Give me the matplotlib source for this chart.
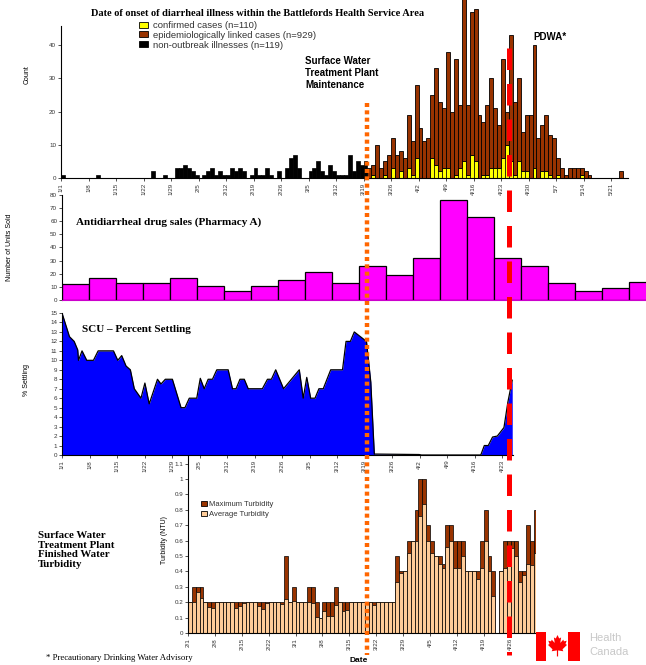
import numpy as np
import matplotlib.pyplot as plt
import matplotlib.transforms as mtransforms
from matplotlib.lines import Line2D
from matplotlib.patches import Patch, Polygon, Rectangle

plt.rcParams["font.family"] = ["Liberation Sans", "DejaVu Sans"]

# ---------------------------------------------------------------- data
# day 0 = Jan 1 2001
epi_tick_days = list(range(0, 141, 7))
epi_tick_labels = ["1/1", "1/8", "1/15", "1/22", "1/29", "2/5", "2/12", "2/19",
                   "2/26", "3/5", "3/12", "3/19", "3/26", "4/2", "4/9", "4/16",
                   "4/23", "4/30", "5/7", "5/14", "5/21"]

# non-outbreak illnesses, Jan 1 .. Mar 19
nonoutbreak_cases = [1, 0, 0, 0, 0, 0, 0, 0, 0, 1,
                     0, 0, 0, 0, 0, 0, 0, 0, 0, 0,
                     0, 0, 0, 2, 0, 0, 1, 0, 0, 3,
                     3, 4, 3, 2, 1, 0, 1, 2, 3, 1,
                     2, 1, 1, 3, 2, 3, 2, 0, 1, 3,
                     1, 1, 3, 1, 0, 2, 0, 3, 6, 7,
                     3, 0, 0, 2, 3, 5, 2, 1, 4, 2,
                     1, 1, 1, 7, 2, 5, 4, 5]

outbreak_first_day = 78  # Mar 20
confirmed_cases = [0, 1, 0, 0, 1, 0, 3, 0, 2, 0,
                   3, 1, 6, 0, 0, 0, 6, 4, 2, 3,
                   3, 0, 1, 3, 5, 1, 7, 5, 0, 1,
                   1, 3, 3, 3, 6, 10, 5, 1, 5, 2,
                   2, 0, 3, 0, 2, 2, 1, 0, 1, 0,
                   0, 0, 0, 0, 1, 0, 0, 0, 0, 0,
                   0, 0, 0, 0, 0]
linked_cases = [3, 3, 10, 3, 4, 7, 9, 7, 6, 6,
                16, 10, 22, 15, 11, 12, 19, 29, 21, 18,
                35, 20, 35, 19, 51, 21, 43, 46, 19, 16,
                21, 27, 18, 13, 30, 10, 38, 22, 25, 12,
                17, 19, 37, 12, 14, 17, 12, 12, 5, 3,
                1, 3, 3, 3, 2, 2, 1, 0, 0, 0,
                0, 0, 0, 0, 2]

# weekly antidiarrheal sales, weeks starting Jan 1
sales_units = [12, 17, 13, 13, 17, 11, 7, 11, 15, 21, 13,
               26, 19, 32, 76, 63, 32, 26, 13, 7, 9, 14]

# SCU percent settling
scu_days = [0, 1.9, 3.1, 4.0, 4.2, 5.1, 6.3, 8.0, 9.2, 13.1, 14.2, 15.2, 16.3,
            17.4, 18.4, 20.1, 21.1, 22.2, 23.5, 24.3, 25.2, 26.3, 28.1, 30.3,
            31.3, 32.4, 34.3, 35.2, 36.2, 37.2, 38.3, 39.4, 42.3, 43.4, 44.3,
            45.3, 46.4, 47.4, 51.0, 52.3, 53.3, 54.4, 56.4, 60.4, 61.4, 62.3,
            63.3, 64.4, 65.4, 66.5, 68.4, 71.4, 72.3, 73.4, 74.4, 77.5, 78.6,
            79.5, 90.9, 91.5, 106.6, 107.5, 108.5, 109.6, 110.8, 112.5, 113.5,
            114.6]
scu_settling = [15.0, 12.5, 12.0, 11.1, 10.0, 11.0, 10.0, 10.0, 11.0, 11.0,
                10.0, 10.5, 9.4, 9.0, 7.0, 6.0, 7.6, 5.4, 7.0, 8.0, 7.5, 8.0,
                8.0, 5.0, 5.0, 6.0, 6.0, 8.1, 7.0, 8.0, 8.0, 9.0, 9.0, 7.0,
                7.0, 8.0, 8.0, 7.0, 7.0, 8.0, 8.0, 9.0, 7.0, 9.0, 6.0, 8.2,
                6.0, 6.0, 7.0, 7.0, 9.0, 9.0, 12.0, 12.0, 13.0, 12.0, 7.7,
                0.1, 0.05, 0.0, 0.0, 1.0, 1.0, 1.9, 2.0, 2.9, 5.6, 7.9]
scu_tick_days = list(range(0, 113, 7))
scu_tick_labels = epi_tick_labels[:17]

# finished water turbidity, day 0 = Feb 1
nan = np.nan
turb_max = [0.2, 0.3, 0.3, 0.3, 0.2, 0.2, 0.2, 0.2, 0.2, 0.2,
            0.2, 0.2, 0.2, 0.2, 0.2, 0.2, 0.2, 0.2, 0.2, 0.2,
            0.2, 0.2, 0.2, 0.2, 0.2, 0.5, 0.2, 0.3, 0.2, 0.2,
            0.2, 0.3, 0.3, 0.2, 0.1, 0.2, 0.2, 0.2, 0.3, 0.2,
            0.2, 0.2, 0.2, 0.2, 0.2, 0.2, 0.2, 0.2, 0.2, 0.2,
            0.2, 0.2, 0.2, 0.2, 0.5, 0.4, 0.4, 0.6, 0.6, 0.8,
            1.0, 1.0, 0.7, 0.6, 0.5, 0.5, 0.45, 0.7, 0.7, 0.6,
            0.6, 0.6, 0.4, 0.4, 0.4, 0.4, 0.6, 0.8, 0.5, 0.4,
            nan, 0.4, 0.6, 0.6, 0.6, 0.6, 0.4, 0.4, 0.7, 0.6,
            0.8]
turb_avg = [0.2, 0.2, 0.265, 0.225, 0.2, 0.17, 0.165, 0.2, 0.2, 0.2,
            0.2, 0.2, 0.165, 0.175, 0.195, 0.2, 0.2, 0.2, 0.175, 0.155,
            0.195, 0.2, 0.2, 0.2, 0.19, 0.22, 0.2, 0.21, 0.2, 0.2,
            0.2, 0.2, 0.195, 0.105, 0.1, 0.14, 0.11, 0.11, 0.18, 0.2,
            0.14, 0.15, 0.2, 0.2, 0.2, 0.2, 0.2, 0.2, 0.18, 0.2,
            0.2, 0.2, 0.2, 0.2, 0.33, 0.39, 0.4, 0.52, 0.6, 0.6,
            0.76, 0.84, 0.6, 0.52, 0.5, 0.45, 0.42, 0.56, 0.6, 0.42,
            0.42, 0.5, 0.4, 0.4, 0.4, 0.35, 0.42, 0.6, 0.4, 0.24,
            nan, 0.4, 0.42, 0.56, 0.55, 0.5, 0.33, 0.38, 0.45, 0.44,
            0.52]
turb_tick_days = list(range(0, 85, 7))
turb_tick_labels = ["2/1", "2/8", "2/15", "2/22", "3/1", "3/8", "3/15", "3/22",
                    "3/29", "4/5", "4/12", "4/19", "4/26"]

maintenance_day = 78   # Mar 20
pdwa_day = 114         # Apr 25

# ---------------------------------------------------------------- layout
W, H = 646, 665
fig = plt.figure(figsize=(W / 100, H / 100), dpi=100)


def px_axes(left, top, right, bottom):
    return fig.add_axes([left / W, 1 - bottom / H, (right - left) / W, (bottom - top) / H])


def fig_xy(x, y):
    return x / W, 1 - y / H


def style_axes(ax):
    for s in ("top", "right"):
        ax.spines[s].set_visible(False)
    ax.spines["left"].set_linewidth(0.8)
    ax.spines["bottom"].set_linewidth(0.8)
    ax.tick_params(length=2, width=0.6, labelsize=4.5, colors="#333333", pad=1.5)
    ax.set_facecolor("none")


BROWN = "#993300"
serif = ["Liberation Serif", "DejaVu Serif"]

# ---- epidemic curve
ax1 = px_axes(61, 26, 628, 178)
style_axes(ax1)
out_days = np.arange(len(linked_cases)) + outbreak_first_day
ax1.bar(np.arange(len(nonoutbreak_cases)), nonoutbreak_cases, width=1, align="edge",
        color="black", edgecolor="black", linewidth=0.5)
ax1.bar(out_days, confirmed_cases, width=1, align="edge",
        color="#FFFF00", edgecolor="black", linewidth=0.5)
bars = ax1.bar(out_days, linked_cases, bottom=confirmed_cases, width=1, align="edge",
               color=BROWN, edgecolor="black", linewidth=0.6)
for b in bars:
    b.set_clip_on(False)
ax1.set_xlim(0, 144.3)
ax1.set_ylim(0, 45.8)
ax1.set_yticks([0, 10, 20, 30, 40])
ax1.set_xticks(epi_tick_days)
ax1.set_xticklabels(epi_tick_labels, rotation=90)

handles = [Patch(facecolor="#FFFF00", edgecolor="black", linewidth=0.6),
           Patch(facecolor=BROWN, edgecolor="black", linewidth=0.6),
           Patch(facecolor="black", edgecolor="black", linewidth=0.6)]
fig.legend(handles, ["confirmed cases (n=110)", "epidemiologically linked cases (n=929)",
                     "non-outbreak illnesses (n=119)"],
           loc="upper left", bbox_to_anchor=fig_xy(139, 21), frameon=False,
           fontsize=6.8, labelspacing=0.08, handlelength=0.9, handleheight=0.6,
           handletextpad=0.6, borderpad=0, borderaxespad=0, labelcolor="#333333")

fig.text(*fig_xy(258, 13), "Date of onset of diarrheal illness within the Battlefords Health Service Area",
         family=serif, weight="bold", fontsize=7.5, ha="center", va="center")
fig.text(*fig_xy(27, 75), "Count", rotation=90, fontsize=5, ha="center", va="center")
fig.text(*fig_xy(305, 73), "Surface Water\nTreatment Plant\nMaintenance", weight="bold",
         fontsize=7, ha="left", va="center", linespacing=1.2)
fig.text(*fig_xy(533, 37), "PDWA*", weight="bold", fontsize=7, ha="left", va="center")

# ---- pharmacy sales
ax2 = px_axes(62, 195, 646, 300)
style_axes(ax2)
ax2.bar(np.arange(len(sales_units)), sales_units, width=1, align="edge",
        color="#FF00FF", edgecolor="black", linewidth=0.9)
ax2.set_xlim(0, 584 / 27.0)
ax2.set_ylim(0, 80)
ax2.set_yticks(range(0, 81, 10))
ax2.set_xticks([])
ax2.spines["bottom"].set_color("#CC00CC")
fig.text(*fig_xy(76, 222), "Antidiarrheal drug sales (Pharmacy A)", family=serif,
         weight="bold", fontsize=8, ha="left", va="center")
fig.text(*fig_xy(10, 247), "Number of Units Sold", rotation=90, fontsize=5,
         ha="center", va="center")

# ---- SCU settling
ax3 = px_axes(62, 313, 513, 455)
style_axes(ax3)
ax3.fill_between(scu_days, scu_settling, 0, color="#0000FF", linewidth=0)
ax3.plot(scu_days, scu_settling, color="black", linewidth=0.9)
ax3.set_xlim(0, 114.8)
ax3.set_ylim(0, 15)
ax3.set_yticks(range(0, 16))
ax3.set_xticks(scu_tick_days)
ax3.set_xticklabels(scu_tick_labels, rotation=90)
fig.text(*fig_xy(82, 329), "SCU \u2013 Percent Settling", family=serif, weight="bold",
         fontsize=8, ha="left", va="center")
fig.text(*fig_xy(27, 380), "% Settling", rotation=90, fontsize=5, ha="center", va="center")

# ---- turbidity
ax4 = px_axes(188, 456, 536, 633)
style_axes(ax4)
tdays = np.arange(len(turb_max))
tmax = np.array(turb_max)
tavg = np.array(turb_avg)
ok = ~np.isnan(tmax)
ax4.bar(tdays[ok], tmax[ok], width=1, align="edge", color=BROWN,
        edgecolor="black", linewidth=0.5)
ax4.bar(tdays[ok], tavg[ok], width=1, align="edge", color="#FFCC99",
        edgecolor="black", linewidth=0.5)
ax4.set_xlim(0, 90.6)
ax4.set_ylim(0, 1.15)
ax4.set_yticks(np.round(np.arange(0, 1.11, 0.1), 1))
ax4.set_yticklabels(["0", "0.1", "0.2", "0.3", "0.4", "0.5", "0.6", "0.7",
                     "0.8", "0.9", "1", "1.1"])
ax4.set_xticks(turb_tick_days)
ax4.set_xticklabels(turb_tick_labels, rotation=90)
ax4.legend([Patch(facecolor=BROWN, edgecolor="black", linewidth=0.6),
            Patch(facecolor="#FFCC99", edgecolor="black", linewidth=0.6)],
           ["Maximum Turbidity", "Average Turbidity"],
           loc="upper left", bbox_to_anchor=fig_xy(201, 501), bbox_transform=fig.transFigure,
           frameon=False, fontsize=5.5, labelspacing=0.35, handlelength=0.8,
           handleheight=0.7, handletextpad=0.3, borderpad=0, borderaxespad=0,
           labelcolor="#333333")
fig.text(*fig_xy(164, 540), "Turbidity (NTU)", rotation=90, fontsize=5, ha="center", va="center")
fig.text(*fig_xy(359, 660), "Date", weight="bold", fontsize=6, ha="center", va="center")
fig.text(*fig_xy(38, 550), "Surface Water\nTreatment Plant\nFinished Water\nTurbidity",
         family=serif, weight="bold", fontsize=7.8, ha="left", va="center", linespacing=1.1)
fig.text(*fig_xy(46, 658), "* Precautionary Drinking Water Advisory", family=serif,
         fontsize=6.3, ha="left", va="center")

# ---- event lines across all panels
trans = mtransforms.blended_transform_factory(ax1.transData, fig.transFigure)
fig.add_artist(Line2D([maintenance_day, maintenance_day], [1 - 103 / H, 1 - 655 / H],
                      transform=trans, color="#FF6600", linewidth=3.2,
                      linestyle=(0, (0.9, 0.75)), dash_capstyle="butt", zorder=10))
fig.add_artist(Line2D([pdwa_day, pdwa_day], [1 - 48 / H, 1 - 655 / H],
                      transform=trans, color="#FF0000", linewidth=3.6,
                      linestyle=(0, (4.3, 2.8)), dash_capstyle="butt", zorder=10))

# ---- Health Canada mark
axl = px_axes(536, 632, 580, 661)
axl.set_xlim(0, 44)
axl.set_ylim(0, 29)
axl.axis("off")
axl.add_patch(Rectangle((0, 0), 10, 29, color="#FF0000", linewidth=0))
axl.add_patch(Rectangle((32, 0), 12, 29, color="#FF0000", linewidth=0))
leaf = np.array([(0.00, 1.00), (0.17, 0.68), (0.36, 0.78), (0.28, 0.28), (0.58, 0.58),
                 (0.64, 0.42), (0.92, 0.48), (0.80, 0.18), (0.95, 0.10), (0.50, -0.30),
                 (0.58, -0.48), (0.06, -0.40), (0.06, -0.95), (-0.06, -0.95),
                 (-0.06, -0.40), (-0.58, -0.48), (-0.50, -0.30), (-0.95, 0.10),
                 (-0.80, 0.18), (-0.92, 0.48), (-0.64, 0.42), (-0.58, 0.58),
                 (-0.28, 0.28), (-0.36, 0.78), (-0.17, 0.68)])
axl.add_patch(Polygon(np.column_stack([leaf[:, 0] * 10 + 21.5, leaf[:, 1] * 11 + 15]),
                      closed=True, color="#FF0000", linewidth=0))
fig.text(*fig_xy(589, 638), "Health", color="#C8C8C8", fontsize=8, ha="left", va="center")
fig.text(*fig_xy(589, 652), "Canada", color="#C8C8C8", fontsize=8, ha="left", va="center")

fig.savefig("out.png", dpi=100, facecolor="white")
